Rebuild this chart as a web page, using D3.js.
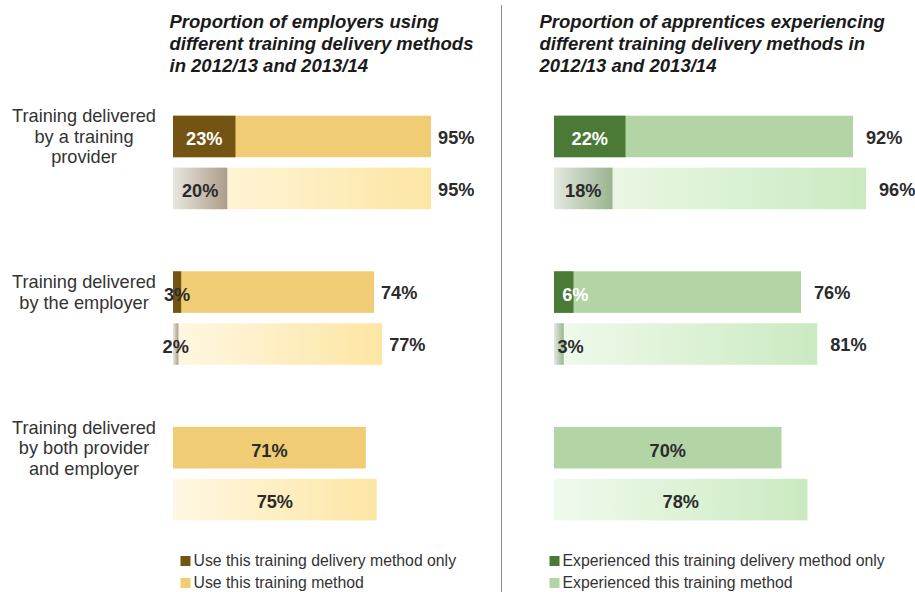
<!DOCTYPE html>
<html>
<head>
<meta charset="utf-8">
<script src="https://cdn.jsdelivr.net/npm/d3@7"></script>
<style>
  html, body { margin: 0; padding: 0; background: #fff; }
  svg { display: block; font-family: "Liberation Sans", Arial, sans-serif; }
</style>
</head>
<body>
<svg id="chart" width="915" height="592"></svg>
<script>
// ---- data ----
const categories = [
  ["Training delivered", "by a training", "provider"],
  ["Training delivered", "by the employer"],
  ["Training delivered", "by both provider", "and employer"]
];
const years = ["2012/13", "2013/14"];

const employersOnly2012 = [23, 3, null];
const employersOnly2013 = [20, 2, null];
const employersUse2012 = [95, 74, 71];
const employersUse2013 = [95, 77, 75];

const apprenticesOnly2012 = [22, 6, null];
const apprenticesOnly2013 = [18, 3, null];
const apprenticesUse2012 = [92, 76, 70];
const apprenticesUse2013 = [96, 81, 78];

const leftTitle = ["Proportion of employers using", "different training delivery methods", "in 2012/13 and 2013/14"];
const rightTitle = ["Proportion of apprentices experiencing", "different training delivery methods in", "2012/13 and 2013/14"];
const leftLegend = ["Use this training delivery method only", "Use this training method"];
const rightLegend = ["Experienced this training delivery method only", "Experienced this training method"];

// ---- layout ----
const svg = d3.select("#chart");
const defs = svg.append("defs");

function grad(id, c0, c1) {
  const g = defs.append("linearGradient").attr("id", id)
    .attr("x1", "0%").attr("x2", "100%").attr("y1", "0%").attr("y2", "0%");
  g.append("stop").attr("offset", "0%").attr("stop-color", c0);
  g.append("stop").attr("offset", "100%").attr("stop-color", c1);
}
grad("gUseL", "#fff7e3", "#fde6a3");
grad("gOnlyL", "#e9e6e1", "#ab9d88");
grad("gUseR", "#f0faec", "#cbeac1");
grad("gOnlyR", "#e3e8e0", "#9bb48f");

const yGroup = d3.scaleBand().domain(d3.range(categories.length))
  .range([115.7, 115.7 + 3 * 155.6]).padding(0);
const yYear = d3.scaleBand().domain(years).range([0, 93.5]).paddingInner(0.2).paddingOuter(0);

const panels = [
  {
    x: d3.scaleLinear().domain([0, 100]).range([173, 173 + 271.6]),
    only: [employersOnly2012, employersOnly2013],
    use: [employersUse2012, employersUse2013],
    dark: "#735412", light: "#f0cd74", useGrad: "url(#gUseL)", onlyGrad: "url(#gOnlyL)",
    gap: 7, smallStart: false,
    title: leftTitle, titleX: 169.5,
    legend: leftLegend, legendX: 180.5
  },
  {
    x: d3.scaleLinear().domain([0, 100]).range([554, 554 + 325]),
    only: [apprenticesOnly2012, apprenticesOnly2013],
    use: [apprenticesUse2012, apprenticesUse2013],
    dark: "#4a7a35", light: "#b3d5a5", useGrad: "url(#gUseR)", onlyGrad: "url(#gOnlyR)",
    gap: 13, smallStart: true,
    title: rightTitle, titleX: 539.5,
    legend: rightLegend, legendX: 549.5
  }
];

// divider
svg.append("line").attr("x1", 501.5).attr("x2", 501.5).attr("y1", 5).attr("y2", 592)
  .attr("stroke", "#8c8c8c").attr("stroke-width", 1);

// category labels
categories.forEach((lines, i) => {
  const yc = yGroup(i) + yYear(years[0]) + yYear.bandwidth() / 2;
  const lh = 20.5;
  const t = svg.append("text").attr("text-anchor", "middle")
    .attr("font-size", 18.2).attr("fill", "#333");
  lines.forEach((l, j) => {
    t.append("tspan").attr("x", 84)
      .attr("y", yc + (j - (lines.length - 1) / 2) * lh + 6.5)
      .text(l);
  });
});

panels.forEach(p => {
  // title
  const tt = svg.append("text").attr("font-size", 18.5).attr("font-weight", "bold")
    .attr("font-style", "italic").attr("fill", "#1a1a1a");
  p.title.forEach((l, j) => {
    tt.append("tspan").attr("x", p.titleX).attr("y", 28 + j * 22).text(l);
  });

  years.forEach((yr, yi) => {
    const rows = p.use[yi].map((u, i) => ({ i, use: u, only: p.only[yi][i] }));
    const g = svg.append("g");
    // total bars
    g.selectAll("rect.use").data(rows).join("rect")
      .attr("x", p.x(0))
      .attr("y", d => yGroup(d.i) + yYear(yr))
      .attr("width", d => p.x(d.use) - p.x(0))
      .attr("height", yYear.bandwidth())
      .attr("fill", yi === 0 ? p.light : p.useGrad);
    // "only" bars
    const onlyRows = rows.filter(d => d.only != null);
    g.selectAll("rect.only").data(onlyRows).join("rect")
      .attr("x", p.x(0))
      .attr("y", d => yGroup(d.i) + yYear(yr))
      .attr("width", d => p.x(d.only) - p.x(0))
      .attr("height", yYear.bandwidth())
      .attr("fill", yi === 0 ? p.dark : p.onlyGrad);

    const cy = d => yGroup(d.i) + yYear(yr) + yYear.bandwidth() / 2;

    // only labels
    g.selectAll("text.only").data(onlyRows).join("text")
      .attr("font-size", 18.2).attr("font-weight", "bold")
      .attr("text-anchor", d => (p.smallStart && d.only < 10) ? "start" : "middle")
      .attr("x", d => {
        const c = (p.x(0) + p.x(d.only)) / 2;
        return (p.smallStart && d.only < 10) ? c - 1.5 : c;
      })
      .attr("y", cy).attr("dy", "0.35em")
      .attr("transform", "translate(0,2.5)")
      .attr("fill", d => (yi === 0 && d.only >= 5) ? "#ffffff" : "#2b2b2b")
      .text(d => d.only + "%");

    // total labels
    g.selectAll("text.use").data(rows).join("text")
      .attr("font-size", 18.2).attr("font-weight", "bold").attr("fill", "#2b2b2b")
      .attr("text-anchor", d => d.only == null ? "middle" : "start")
      .attr("x", d => d.only == null ? (p.x(0) + p.x(d.use)) / 2 : p.x(d.use) + p.gap)
      .attr("y", cy).attr("dy", "0.35em")
      .attr("transform", d => d.only == null ? "translate(0,2.5)" : "translate(0,1)")
      .text(d => d.use + "%");
  });

  // legend
  const lc = [p.dark, p.light];
  p.legend.forEach((l, j) => {
    const ly = 556 + j * 22;
    svg.append("rect").attr("x", p.legendX).attr("y", ly).attr("width", 10).attr("height", 10)
      .attr("fill", lc[j]);
    svg.append("text").attr("x", p.legendX + 13).attr("y", ly + 10)
      .attr("font-size", 15.8).attr("fill", "#333").text(l);
  });
});
</script>
</body>
</html>
